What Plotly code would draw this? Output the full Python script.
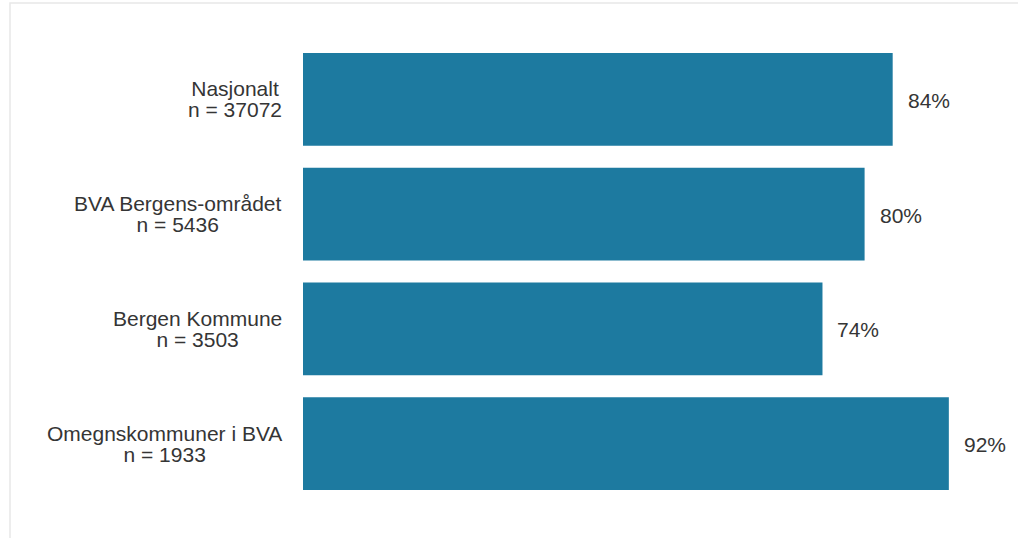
import plotly.graph_objects as go

categories = ["Nasjonalt", "BVA Bergens-området", "Bergen Kommune", "Omegnskommuner i BVA"]
n_values = [37072, 5436, 3503, 1933]
percent_values = [84, 80, 74, 92]

BAR_COLOR = "#1d7aa0"
TEXT_COLOR = "#353535"
FONT = "Liberation Sans, Arial, sans-serif"

W, H = 1018, 538
ML, MR, MT, MB = 303, 13, 42, 37
pw = W - ML - MR
ph = H - MT - MB

fig = go.Figure()
fig.add_trace(go.Bar(
    y=categories,
    x=percent_values,
    orientation="h",
    marker=dict(color=BAR_COLOR, line=dict(width=0)),
    hoverinfo="skip",
))

annotations = []
for cat, n, p in zip(categories, n_values, percent_values):
    annotations.append(dict(
        x=0, xref="paper", y=cat, yref="y",
        text=f"<span style='font-size:21px'>{cat}<br>n = {n}</span>", showarrow=False,
        xanchor="right", yanchor="middle", align="center",
        xshift=-19, yshift=0,
        font=dict(family=FONT, size=16, color=TEXT_COLOR),
    ))
    annotations.append(dict(
        x=p, xref="x", y=cat, yref="y",
        text=f"{p}%", showarrow=False,
        xanchor="left", yanchor="middle",
        xshift=13, yshift=-1,
        font=dict(family=FONT, size=21, color=TEXT_COLOR),
    ))

def px_x(p):
    return (p - ML) / pw

def px_y(q):
    return (H - MB - q) / ph

fig.update_layout(
    width=W, height=H,
    margin=dict(l=ML, r=MR, t=MT, b=MB),
    paper_bgcolor="white", plot_bgcolor="white",
    bargap=0.19,
    showlegend=False,
    xaxis=dict(range=[0, 100], visible=False, fixedrange=True),
    yaxis=dict(autorange="reversed", showticklabels=False, showgrid=False,
               zeroline=False, showline=False, ticks="", fixedrange=True),
    annotations=annotations,
    shapes=[dict(
        type="rect", xref="paper", yref="paper", layer="below",
        x0=px_x(10), x1=px_x(1030), y0=px_y(3), y1=px_y(560),
        line=dict(color="#e8e8e8", width=1.5), fillcolor="rgba(0,0,0,0)",
    )],
)

fig.write_html(
    "out.html",
    config={"displayModeBar": False},
    post_script="document.body.style.margin='0';document.body.style.overflow='hidden';",
)
